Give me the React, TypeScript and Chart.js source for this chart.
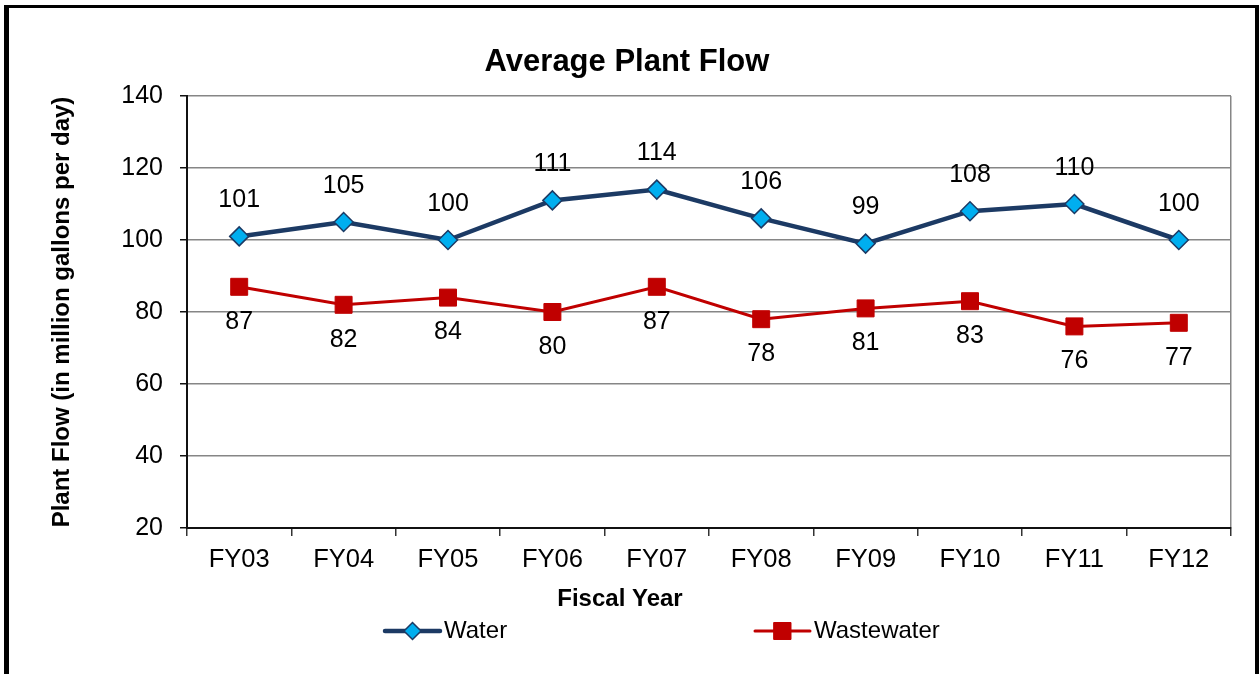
import React, { useEffect, useRef } from 'react';
import { Chart, registerables } from 'chart.js';

Chart.register(...registerables);

const categories = ['FY03', 'FY04', 'FY05', 'FY06', 'FY07', 'FY08', 'FY09', 'FY10', 'FY11', 'FY12'];
const waterValues = [101, 105, 100, 111, 114, 106, 99, 108, 110, 100];
const wastewaterValues = [87, 82, 84, 80, 87, 78, 81, 83, 76, 77];
const yMin = 20;
const yMax = 140;
const yStep = 20;

const FONT = '"Liberation Sans", Arial, Helvetica, sans-serif';
const GRID = '#868686';

const framePlugin = {
  id: 'frame',
  afterDraw(chart: any) {
    const ctx = chart.ctx;
    ctx.save();
    ctx.fillStyle = '#000';
    ctx.fillRect(4, 5, 5, chart.height);
    ctx.fillRect(4, 5, 1255, 3);
    ctx.fillRect(1255, 5, 4, chart.height);
    ctx.restore();
  },
};

const xTitlePlugin = {
  id: 'xTitle',
  afterDraw(chart: any, _args: any, opts: any) {
    const ctx = chart.ctx;
    ctx.save();
    ctx.font = `bold 24px ${FONT}`;
    ctx.fillStyle = '#000';
    ctx.textAlign = 'center';
    ctx.textBaseline = 'middle';
    ctx.fillText(opts.text, opts.x, opts.y);
    ctx.restore();
  },
};

const dataLabelPlugin = {
  id: 'dataLabels',
  afterDatasetsDraw(chart: any, _args: any, opts: any) {
    const ctx = chart.ctx;
    ctx.save();
    ctx.font = `25px ${FONT}`;
    ctx.fillStyle = '#000';
    ctx.textAlign = 'center';
    ctx.textBaseline = 'middle';
    chart.data.datasets.forEach((ds: any, i: number) => {
      const meta = chart.getDatasetMeta(i);
      const off = opts.offsets[i];
      meta.data.forEach((pt: any, j: number) => {
        ctx.fillText(String(ds.data[j]), pt.x, pt.y + off);
      });
    });
    ctx.restore();
  },
};

const legendPlugin = {
  id: 'customLegend',
  afterDraw(chart: any, _args: any, opts: any) {
    const ctx = chart.ctx;
    ctx.save();
    chart.data.datasets.forEach((ds: any, i: number) => {
      const x0 = opts.xs[i];
      const y = opts.y;
      const lineLen = opts.lineLen;
      ctx.strokeStyle = ds.borderColor;
      ctx.lineWidth = ds.borderWidth;
      ctx.lineCap = 'round';
      ctx.beginPath();
      ctx.moveTo(x0, y);
      ctx.lineTo(x0 + lineLen, y);
      ctx.stroke();
      const cx = x0 + lineLen / 2;
      ctx.fillStyle = ds.pointBackgroundColor;
      ctx.strokeStyle = ds.pointBorderColor;
      ctx.lineWidth = ds.pointBorderWidth;
      ctx.beginPath();
      if (ds.pointStyle === 'rectRot') {
        const r = ds.pointRadius - 1;
        ctx.moveTo(cx - r, y);
        ctx.lineTo(cx, y - r);
        ctx.lineTo(cx + r, y);
        ctx.lineTo(cx, y + r);
        ctx.closePath();
      } else {
        const s = ds.pointRadius * Math.SQRT1_2;
        ctx.rect(cx - s, y - s, 2 * s, 2 * s);
      }
      ctx.fill();
      ctx.stroke();
      ctx.fillStyle = '#000';
      ctx.font = `24px ${FONT}`;
      ctx.textAlign = 'left';
      ctx.textBaseline = 'middle';
      ctx.fillText(ds.label, x0 + lineLen + 4, y);
    });
    ctx.restore();
  },
};

export default function App() {
  const canvasRef = useRef<HTMLCanvasElement | null>(null);

  useEffect(() => {
    document.body.style.margin = '0';
    document.body.style.background = '#fff';
    const canvas = canvasRef.current;
    if (!canvas) return;
    const chart = new Chart(canvas, {
      type: 'line',
      data: {
        labels: categories,
        datasets: [
          {
            label: 'Water',
            data: waterValues,
            borderColor: '#1C3A64',
            borderWidth: 4.5,
            pointStyle: 'rectRot',
            pointRadius: 9.5,
            pointBackgroundColor: '#00AEEF',
            pointBorderColor: '#1C3A64',
            pointBorderWidth: 1.5,
            tension: 0,
          },
          {
            label: 'Wastewater',
            data: wastewaterValues,
            borderColor: '#C00000',
            borderWidth: 3,
            pointStyle: 'rect',
            pointRadius: 12,
            pointBackgroundColor: '#C00000',
            pointBorderColor: '#C00000',
            pointBorderWidth: 1,
            tension: 0,
          },
        ] as any,
      },
      options: {
        responsive: false,
        animation: false,
        layout: { padding: { left: 23, right: 29, top: 0, bottom: 56.6 } },
        plugins: {
          legend: { display: false },
          tooltip: { enabled: false },
          title: {
            display: true,
            text: 'Average Plant Flow',
            color: '#000',
            font: { family: FONT, size: 31, weight: 'bold', lineHeight: 1.2 },
            padding: { top: 44, bottom: 14.8 },
          },
          dataLabels: { offsets: [-36, 35] },
          customLegend: { xs: [385, 755], y: 631, lineLen: 55 },
          xTitle: { text: 'Fiscal Year', x: 620, y: 599 },
        } as any,
        scales: {
          x: {
            type: 'category',
            offset: true,
            grid: {
              offset: true,
              drawOnChartArea: true,
              color: (c: any) => (c.tick ? 'rgba(0,0,0,0)' : GRID),
              tickColor: '#333',
              tickLength: 8,
              lineWidth: 1.5,
            },
            border: { display: true, color: '#111', width: 2 },
            ticks: {
              color: '#000',
              padding: 9,
              font: { family: FONT, size: 25.5 },
              maxRotation: 0,
              autoSkip: false,
            },
            title: { display: false },
            afterFit: (s: any) => {
              s.height = 89.4;
            },
          },
          y: {
            min: yMin,
            max: yMax,
            grid: {
              color: GRID,
              tickColor: '#111',
              tickLength: 7,
              lineWidth: 1.5,
            },
            border: { display: true, color: '#111', width: 2 },
            ticks: {
              stepSize: yStep,
              color: '#000',
              padding: 17,
              font: { family: FONT, size: 25 },
            },
            title: {
              display: true,
              text: 'Plant Flow (in million gallons per day)',
              color: '#000',
              font: { family: FONT, size: 24, weight: 'bold' },
              padding: { top: 25, bottom: 0 },
            },
            afterFit: (s: any) => {
              s.width = 164;
            },
          },
        },
      },
      plugins: [dataLabelPlugin, legendPlugin, xTitlePlugin, framePlugin],
    });
    return () => chart.destroy();
  }, []);

  return <canvas ref={canvasRef} width={1260} height={674} style={{ display: 'block' }} />;
}
